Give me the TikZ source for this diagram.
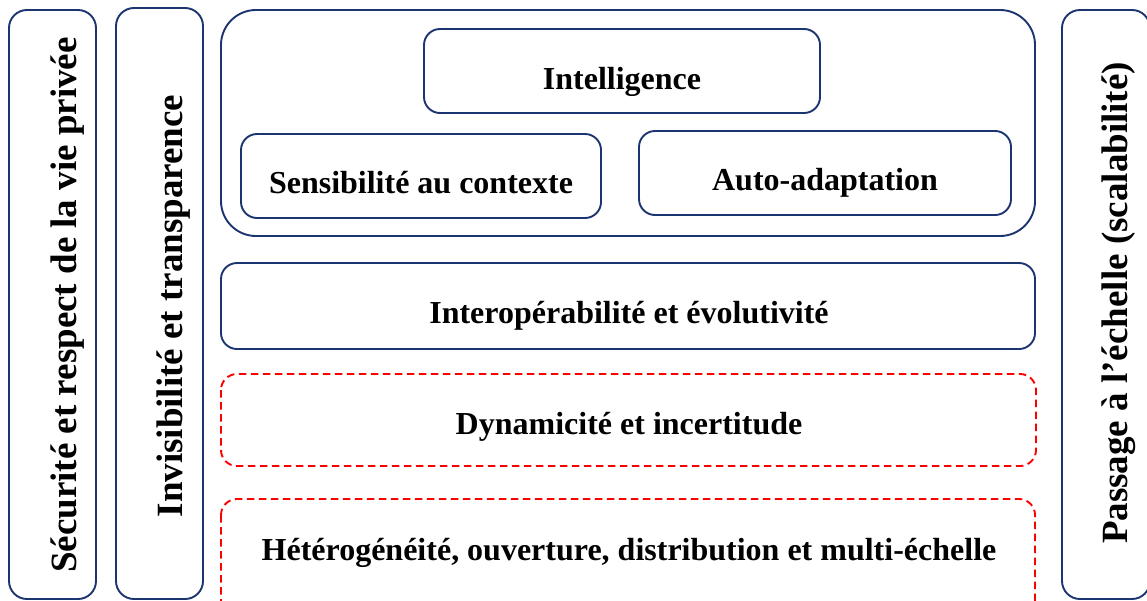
\documentclass[tikz,border=0pt]{standalone}
\usepackage{fontspec}
\setmainfont{Liberation Serif}
\definecolor{navy}{RGB}{28,52,112}

\begin{document}
\begin{tikzpicture}[x=1pt,y=-1pt,
  box/.style={draw=navy,line width=1.9pt,rounded corners=16pt},
  redbox/.style={draw=red,line width=1.9pt,dash pattern=on 7.5pt off 4.5pt,rounded corners=16pt},
  txt/.style={anchor=base,inner sep=0pt,font=\bfseries\fontsize{32}{38}\selectfont},
  vtxt/.style={anchor=base,rotate=90,inner sep=0pt,font=\bfseries\fontsize{37}{44}\selectfont}]
\useasboundingbox (0,0) rectangle (1147,600);
\clip (0,0) rectangle (1147,600);

% side columns
\draw[box,rounded corners=18pt] (9,10) rectangle (96,599);
\draw[box,rounded corners=18pt] (116,8) rectangle (203,599);
\draw[box,rounded corners=18pt] (1062,10) rectangle (1150,599);
\node[vtxt] (secu) at (76,305) {Sécurité et respect de la vie privée};
\node[vtxt] (invis) at (182,306) {Invisibilité et transparence};
\node[vtxt] (passage) at (1127,303) {Passage à l’échelle (scalabilité)};

% upper block
\draw[box,rounded corners=35pt] (221,10) rectangle (1035,236);
\draw[box] (424,29) rectangle (820,113);
\draw[box] (241,134) rectangle (601,218);
\draw[box] (639,131) rectangle (1011,215);
\node[txt] (intel) at (622,89) {Intelligence};
\node[txt] (sens) at (421,193) {Sensibilité au contexte};
\node[txt] (auto) at (825,190) {Auto-adaptation};

% layers
\draw[box] (221,263) rectangle (1035,349);
\draw[redbox] (221,374) rectangle (1036,466);
\draw[redbox] (221,499) rectangle (1035,620);
\node[txt] (interop) at (629,323) {Interopérabilité et évolutivité};
\node[txt] (dyna) at (629,434) {Dynamicité et incertitude};
\node[txt] (hetero) at (629,560) {Hétérogénéité, ouverture, distribution et multi-échelle};
\end{tikzpicture}
\end{document}
